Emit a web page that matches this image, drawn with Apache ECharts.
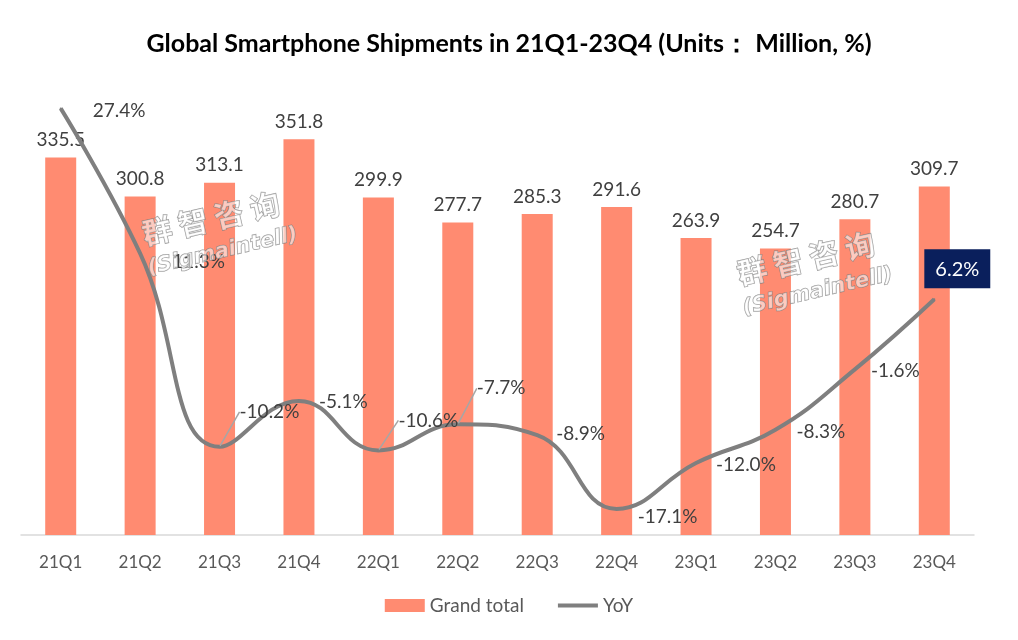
<!DOCTYPE html>
<html>
<head>
<meta charset="utf-8">
<script src="https://cdn.jsdelivr.net/npm/echarts@6/dist/echarts.min.js"></script>
<style>html,body{margin:0;padding:0;background:#fff}#c{width:1018px;height:640px}</style>
</head>
<body>
<div id="c"></div>
<script>
const categories = ['21Q1','21Q2','21Q3','21Q4','22Q1','22Q2','22Q3','22Q4','23Q1','23Q2','23Q3','23Q4'];
const grandTotal = [335.5, 300.8, 313.1, 351.8, 299.9, 277.7, 285.3, 291.6, 263.9, 254.7, 280.7, 309.7];
const yoy = [27.4, 11.3, -10.2, -5.1, -10.6, -7.7, -8.9, -17.1, -12.0, -8.3, -1.6, 6.2];
// label offsets [dx, dy] relative to default label position, and whether a leader line is drawn
const yoyLabelOffsets = [[26,2],[26,9],[14,-35],[14,1],[14,-30],[13,-36],[13,-1],[15,8],[14,2],[15,2],[10,1],[23,-5]];
const yoyLeader = [false,false,true,false,true,true,false,false,false,false,false,false];

const FONT = 'Lato, "Noto Sans", sans-serif';
const chart = echarts.init(document.getElementById('c'));

const yoyData = yoy.map((v, i) => {
  const item = { value: v };
  if (i === yoy.length - 1) {
    item.label = {
      backgroundColor: '#0a1f5c', color: '#ffffff', padding: [10, 11, 9, 11], fontSize: 20,
      position: 'top'
    };
  }
  if (yoyLeader[i]) item.labelLine = { show: true };
  return item;
});

function watermark(x, y) {
  const st = { fill: 'rgba(255,255,255,0.55)', stroke: 'rgba(120,120,120,0.8)', lineWidth: 1 };
  return {
    type: 'group', x: x, y: y, rotation: 13 * Math.PI / 180, silent: true, z: 100,
    children: [
      { type: 'text', z: 100, style: Object.assign({ text: '群 智 咨 询', x: 0, y: -18, align: 'center', verticalAlign: 'middle',
        font: 'bold 30px "Noto Sans CJK SC"' }, st) },
      { type: 'text', z: 100, style: Object.assign({ text: '(Sigmaintell)', x: 4, y: 17, align: 'center', verticalAlign: 'middle',
        font: 'italic bold 21px "DejaVu Sans"' }, st) }
    ]
  };
}

chart.setOption({
  animation: false,
  title: {
    text: 'Global Smartphone Shipments in 21Q1-23Q4 (Units\uFF1A Million, %)',
    left: 'center', top: 26,
    textStyle: { fontFamily: FONT, fontWeight: 'bold', fontSize: 25, color: '#000' }
  },
  legend: {
    bottom: 20, left: 'center', itemGap: 34, itemWidth: 40, itemHeight: 13,
    textStyle: { fontFamily: FONT, fontSize: 19, color: '#595959' },
    data: [
      { name: 'Grand total', icon: 'rect' },
      { name: 'YoY', icon: 'path://M0,0L40,0L40,0Z M0,4.5L40,4.5L40,8.5L0,8.5Z M0,13L40,13L40,13Z',
        itemStyle: { color: '#7f7f7f', borderWidth: 0 } }
    ]
  },
  grid: { left: 21, right: 44, top: 85, bottom: 105, containLabel: false },
  xAxis: {
    type: 'category', data: categories, boundaryGap: true,
    axisLine: { lineStyle: { color: '#d9d9d9', width: 1.5 } },
    axisTick: { show: false },
    axisLabel: { fontFamily: FONT, fontSize: 17, color: '#595959', margin: 19 }
  },
  yAxis: [
    { type: 'value', min: 0, max: 400, show: false, splitLine: { show: false } },
    { type: 'value', min: -20, max: 30, show: false, splitLine: { show: false } }
  ],
  graphic: [watermark(215, 236), watermark(810, 276)],
  series: [
    {
      name: 'Grand total', type: 'bar', data: grandTotal, yAxisIndex: 0, barWidth: 31,
      itemStyle: { color: '#ff8b71' },
      label: { show: true, position: 'top', distance: 8, fontFamily: FONT, fontSize: 19, color: '#404040' }
    },
    {
      name: 'YoY', type: 'line', data: yoyData, yAxisIndex: 1, smooth: 0.45,
      symbol: 'circle', symbolSize: 2, showSymbol: true,
      lineStyle: { color: '#7f7f7f', width: 4 }, itemStyle: { color: '#7f7f7f' },
      label: {
        show: true, position: 'right', fontFamily: FONT, fontSize: 19, color: '#404040',
        formatter: p => p.value.toFixed(1) + '%'
      },
      labelLine: { show: false, lineStyle: { color: '#a6a6a6', width: 1.5 } },
      labelLayout: function (params) {
        const o = yoyLabelOffsets[params.dataIndex];
        return { dx: o[0], dy: o[1] };
      },
      z: 5
    }
  ]
});
</script>
</body>
</html>
